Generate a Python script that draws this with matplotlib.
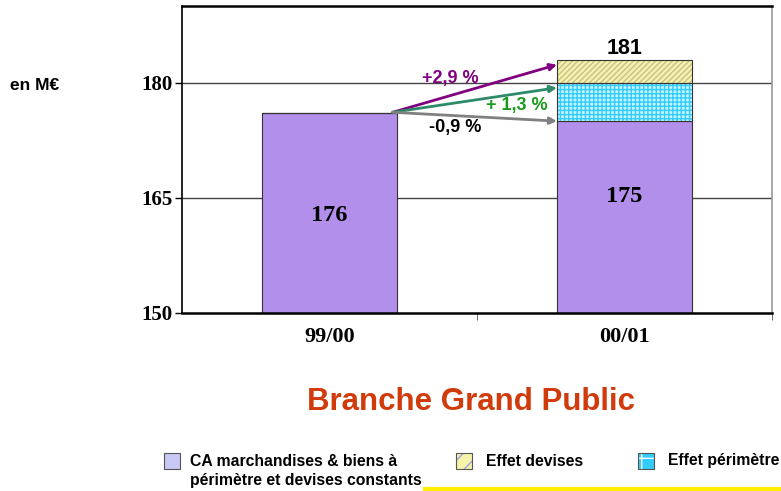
import matplotlib
matplotlib.use("Agg")
import matplotlib.pyplot as plt
from matplotlib.patches import Rectangle
from matplotlib.lines import Line2D

# ---- data ----
categories = ["99/00", "00/01"]
base_values = [176, 175]          # CA à périmètre et devises constants
perimetre_effect = [0, 5]         # Effet périmètre (stacked on base)
devises_effect = [0, 3]           # Effet devises (stacked on top)
bar_labels = ["176", "175"]
total_label = "181"
arrow_targets = [182.35, 179.35, 175.0]
arrow_labels = ["+2,9 %", "+ 1,3 %", "-0,9 %"]
arrow_colors = ["#800080", "#2e8b6a", "#808080"]
label_colors = ["#800080", "#1a9a1a", "#000000"]
yticks = [150, 165, 180]

W, H = 781, 491
fig = plt.figure(figsize=(W / 100, H / 100), dpi=100)
ax = fig.add_axes([182 / W, 1 - 313 / H, (772 - 182) / W, (313 - 6) / H])

x = list(range(len(categories)))
width = 0.458
purple = "#b28feb"

ax.set_xlim(-0.5, 1.5)
ax.set_ylim(150, 190)

# gridlines
for yv in yticks[1:]:
    ax.axhline(yv, color="#444444", lw=1.0, zorder=0)

# base bars
ax.bar(x, [b - 150 for b in base_values], bottom=150, width=width, color=purple,
       edgecolor="#333333", linewidth=0.8, zorder=2)

# perimetre effect (cyan grid)
bot2 = base_values
ax.bar(x, perimetre_effect, bottom=bot2, width=width, color="#c8f4ff",
       edgecolor="#33ccff", hatch="++++", linewidth=0, zorder=2)
ax.bar(x, perimetre_effect, bottom=bot2, width=width, fill=False,
       edgecolor="#333333", linewidth=0.8, zorder=3)

# devises effect (yellow diagonal)
bot3 = [b + p for b, p in zip(base_values, perimetre_effect)]
ax.bar(x, devises_effect, bottom=bot3, width=width, color="#f6f2a8",
       edgecolor="#c8c090", hatch="//////", linewidth=0, zorder=2)
ax.bar(x, devises_effect, bottom=bot3, width=width, fill=False,
       edgecolor="#333333", linewidth=0.8, zorder=3)

# value labels in bars
label_y = [162.65, 165.2]
for xi, lab, yl in zip(x, bar_labels, label_y):
    ax.text(xi, yl, lab, ha="center", va="center", fontsize=17.5,
            fontweight="bold", family="Liberation Serif", zorder=5)
ax.text(1, 184.4, total_label, ha="center", va="center", fontsize=15.5,
        fontweight="bold", family="Liberation Sans", zorder=5)

# arrows
x0 = x[0] + width / 2 - 0.015
y0 = base_values[0] + 0.15
x1 = x[1] - width / 2
for yt, c in zip(arrow_targets, arrow_colors):
    ax.annotate("", xy=(x1, yt), xytext=(x0, y0),
                arrowprops=dict(arrowstyle="-|>", color=c, lw=2,
                                mutation_scale=10, shrinkA=0, shrinkB=0),
                zorder=6)
label_pos = [(0.408, 180.55), (0.636, 177.0), (0.425, 174.2)]
for (lx, ly), lab, c in zip(label_pos, arrow_labels, label_colors):
    ax.text(lx, ly, lab, ha="center", va="center", fontsize=13,
            fontweight="bold", color=c, family="Liberation Sans", zorder=7)

# axes styling
ax.set_yticks(yticks)
ax.set_yticklabels([str(v) for v in yticks], fontsize=15, fontweight="bold",
                   family="Liberation Serif")
ax.set_xticks(x)
ax.set_xticklabels(categories, fontsize=16, fontweight="bold",
                   family="Liberation Serif")
ax.tick_params(axis="x", length=0, pad=10)
ax.set_xticks([0.5, 1.5], minor=True)
ax.tick_params(axis="x", which="minor", length=5, color="#555555")
ax.tick_params(axis="y", length=5, width=1, pad=2)
for s in ["left", "bottom", "top"]:
    ax.spines[s].set_linewidth(1.8)
    ax.spines[s].set_color("black")
ax.spines["left"].set_linewidth(1.2)
ax.spines["right"].set_color("#999999")
ax.spines["right"].set_linewidth(1.2)

fig.text(10 / W, 1 - 85 / H, "en M€", fontsize=12.5, fontweight="bold",
         family="Liberation Sans", ha="left", va="center")

fig.text(471 / W, 1 - 402 / H, "Branche Grand Public", fontsize=22.5,
         fontweight="bold", color="#d13b0c", family="Liberation Sans",
         ha="center", va="center")

# legend (manual)
def leg_patch(px, face, hatch=None, hcol=None):
    r = Rectangle((px / W, 1 - 469 / H), 16 / W, 16 / H, transform=fig.transFigure,
                  facecolor=face, edgecolor=hcol if hatch else "#555555",
                  hatch=hatch, linewidth=0 if hatch else 0.8)
    fig.add_artist(r)
    if hatch:
        fig.add_artist(Rectangle((px / W, 1 - 469 / H), 16 / W, 16 / H,
                                 transform=fig.transFigure, fill=False,
                                 edgecolor="#555555", linewidth=0.8))

leg_patch(164, "#c8c8f4")
leg_patch(456, "#f6f2a8", "//", "#a0a0e0")
leg_patch(638, "#33ccff", "+", "#ffffff")
fs_leg = 11.3
fig.text(190 / W, 1 - 461 / H, "CA marchandises & biens à", fontsize=fs_leg,
         fontweight="bold", family="Liberation Sans", va="center")
fig.text(190 / W, 1 - 481 / H, "périmètre et devises constants", fontsize=fs_leg,
         fontweight="bold", family="Liberation Sans", va="center")
fig.text(486 / W, 1 - 461 / H, "Effet devises", fontsize=fs_leg,
         fontweight="bold", family="Liberation Sans", va="center")
fig.text(668 / W, 1 - 461 / H, "Effet périmètre", fontsize=fs_leg,
         fontweight="bold", family="Liberation Sans", va="center")
fig.add_artist(Line2D([425 / W, 1.0], [1 - 489 / H, 1 - 489 / H],
                      transform=fig.transFigure, color="#ffee00", lw=3))

fig.savefig("out.png", dpi=100)
